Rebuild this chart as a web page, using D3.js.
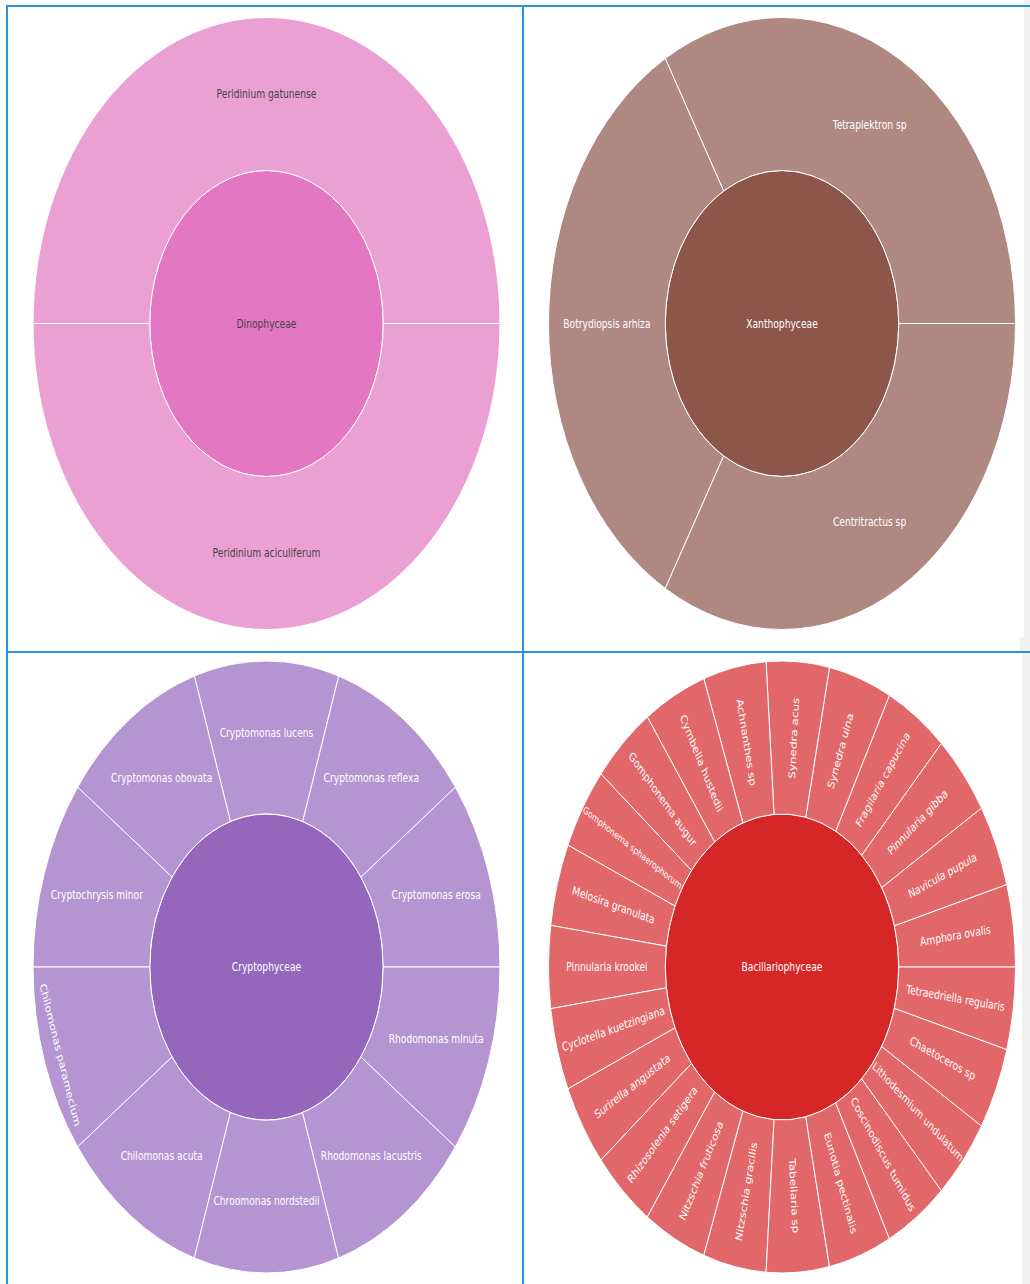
<!DOCTYPE html>
<html>
<head>
<meta charset="utf-8">
<script src="https://cdn.jsdelivr.net/npm/d3@7"></script>
<style>
  html, body { margin: 0; padding: 0; background: #ffffff; }
  svg { display: block; }
</style>
</head>
<body>
<svg id="chart" width="1030" height="1284"></svg>
<script>
// ---------------- DATA ----------------
// Class names (centre of each sunburst)
const classNames = ["Dinophyceae", "Xanthophyceae", "Cryptophyceae", "Bacillariophyceae"];
// Base colours of each class
const classColors = ["#e377c2", "#8c564b", "#9467bd", "#d62728"];

// Species of each class, listed counter-clockwise starting at 3 o'clock
const dinophyceaeSpecies = ["Peridinium gatunense", "Peridinium aciculiferum"];
const dinophyceaeValues = [1, 1];

const xanthophyceaeSpecies = ["Tetraplektron sp", "Botrydiopsis arhiza", "Centritractus sp"];
const xanthophyceaeValues = [1, 1, 1];

const cryptophyceaeSpecies = [
  "Cryptomonas erosa", "Cryptomonas reflexa", "Cryptomonas lucens", "Cryptomonas obovata",
  "Cryptochrysis minor", "Chilomonas paramecium", "Chilomonas acuta", "Chroomonas nordstedii",
  "Rhodomonas lacustris", "Rhodomonas minuta"
];
const cryptophyceaeValues = [1, 1, 1, 1, 1, 1, 1, 1, 1, 1];

const bacillariophyceaeSpecies = [
  "Amphora ovalis", "Navicula pupula", "Pinnularia gibba", "Fragilaria capucina", "Synedra ulna",
  "Synedra acus", "Achnanthes sp", "Cymbella hustedii", "Gomphonema augur",
  "Gomphonema sphaerophorum", "Melosira granulata", "Pinnularia krookei", "Cyclotella kuetzingiana",
  "Surirella angustata", "Rhizosolenia setigera", "Nitzschia fruticosa", "Nitzschia gracilis",
  "Tabellaria sp", "Eunotia pectinalis", "Coscinodiscus tumidus", "Lithodesmium undulatum",
  "Chaetoceros sp", "Tetraedriella regularis"
];
const bacillariophyceaeValues = new Array(23).fill(1);

const speciesLists = [dinophyceaeSpecies, xanthophyceaeSpecies, cryptophyceaeSpecies, bacillariophyceaeSpecies];
const valueLists = [dinophyceaeValues, xanthophyceaeValues, cryptophyceaeValues, bacillariophyceaeValues];

// ---------------- LAYOUT ----------------
const W = 1030, H = 1284;
const R = 306;              // outer radius (vertical)
const SX = 0.763;           // horizontal squeeze of each chart
const centers = [[266.5, 323.5], [782, 323.5], [266.5, 967], [782, 967]];
const FONT = "Verdana, 'DejaVu Sans', sans-serif";
const FONT_SIZE = 12;
const GRID = "#2a94da";

const svg = d3.select("#chart");
svg.append("rect").attr("width", W).attr("height", H).attr("fill", "#ffffff");

// right scrollbar-like strip
svg.append("rect").attr("x", 1024).attr("y", 0).attr("width", 6).attr("height", 637).attr("fill", "#f1f1f1");
svg.append("rect").attr("x", 1020).attr("y", 637).attr("width", 10).attr("height", 15).attr("fill", "#f1f1f1");
svg.append("rect").attr("x", 1022).attr("y", 653).attr("width", 8).attr("height", H - 653).attr("fill", "#f1f1f1");

const measure = svg.append("text")
  .attr("font-family", FONT).attr("font-size", FONT_SIZE)
  .attr("visibility", "hidden");
function textBox(t) {
  measure.text(t);
  const b = measure.node().getBBox();
  return { w: b.width, h: b.height, y: b.y };
}

function norm(a) { // to [-90, 90)
  return (((a + 90) % 180) + 180) % 180 - 90;
}

function contrast(c) {
  const col = d3.rgb(c);
  const br = (col.r * 299 + col.g * 587 + col.b * 114) / 1000;
  return br >= 128 ? "#444444" : "#ffffff";
}

const yScale = d3.scaleLinear().domain([0, 2]).range([0, R]);
const ang = x => Math.PI / 2 - x; // counter-clockwise from 3 o'clock (d3 angle: clockwise from top)

function labelTransform(d, tb) {
  if (d.depth === 0) return { rc: 0, theta: 0, rot: 0, scale: 1 };
  const r = yScale(d.y1);
  const r0 = yScale(d.y0);
  const half = (d.x1 - d.x0) / 2;
  const ring = 1 - r0 / r;
  const theta = (ang(d.x0) + ang(d.x1)) / 2;
  const thetaDeg = theta * 180 / Math.PI;

  const rIns = Math.max(0, Math.min(1 / (1 + 1 / Math.sin(half)), ring / 2));
  const diam = Math.hypot(tb.w, tb.h);
  const hT = { scale: rIns * r * 2 / diam, rCenter: 1 - rIns, rot: 0 };
  if (hT.scale >= 1) return { rc: hT.rCenter * r, theta, rot: 0, scale: 1 };

  const rr = Math.max(0, r - 6);
  function maxHalf(a) {
    const q = a + 1 / (2 * Math.tan(half));
    return rr * Math.min(1 / (Math.sqrt(q * q + 0.5) + q), ring / (Math.sqrt(a * a + ring / 2) + a));
  }
  const aR = tb.w / tb.h;
  const sR = maxHalf(aR);
  const radT = { scale: 2 * sR / tb.h, rCenter: Math.cos(sR / rr) - aR * sR / rr, rot: norm(thetaDeg - 90) };
  const aT = tb.h / tb.w;
  const sT = maxHalf(aT);
  const tanT = { scale: 2 * sT / tb.w, rCenter: Math.cos(sT / rr) - aT * sT / rr, rot: norm(thetaDeg) };

  let best = hT;
  [radT, tanT].forEach(t => { if (t.scale > best.scale) best = t; });
  return { rc: best.rCenter * r, theta, rot: best.rot, scale: Math.min(1, best.scale) };
}

classNames.forEach((cls, i) => {
  const color = classColors[i];
  const txtColor = contrast(color);
  const data = {
    name: cls,
    children: speciesLists[i].map((n, j) => ({ name: n, value: valueLists[i][j] }))
  };
  const root = d3.hierarchy(data).sum(d => d.children ? 0 : d.value);
  d3.partition().size([2 * Math.PI, 2])(root);

  const arc = d3.arc()
    .startAngle(d => ang(d.x1))
    .endAngle(d => ang(d.x0))
    .innerRadius(d => yScale(d.y0))
    .outerRadius(d => yScale(d.y1));

  const [cx, cy] = centers[i];
  const g = svg.append("g").attr("transform", `translate(${cx},${cy}) scale(${SX},1)`);

  g.selectAll("path")
    .data(root.descendants())
    .join("path")
    .attr("d", arc)
    .attr("fill", color)
    .attr("fill-opacity", d => d.depth ? 0.7 : 1)
    .attr("stroke", "#ffffff")
    .attr("stroke-width", 1)
    .attr("vector-effect", "non-scaling-stroke");

  root.descendants().forEach(d => {
    const tb = textBox(d.data.name);
    const t = labelTransform(d, tb);
    const x = t.rc * Math.sin(t.theta);
    const y = -t.rc * Math.cos(t.theta);
    g.append("text")
      .attr("transform", `translate(${x},${y}) rotate(${t.rot}) scale(${t.scale})`)
      .attr("text-anchor", "middle")
      .attr("y", -(tb.y + tb.h / 2))
      .attr("font-family", FONT)
      .attr("font-size", FONT_SIZE)
      .attr("fill", txtColor)
      .text(d.data.name);
  });
});

measure.remove();

// grid lines (panel borders)
const grid = svg.append("g").attr("stroke", GRID).attr("stroke-width", 2);
grid.append("line").attr("x1", 6).attr("x2", W).attr("y1", 6).attr("y2", 6);
grid.append("line").attr("x1", 6).attr("x2", W).attr("y1", 652).attr("y2", 652);
grid.append("line").attr("x1", 7).attr("x2", 7).attr("y1", 5).attr("y2", H);
grid.append("line").attr("x1", 523).attr("x2", 523).attr("y1", 5).attr("y2", H);
</script>
</body>
</html>
